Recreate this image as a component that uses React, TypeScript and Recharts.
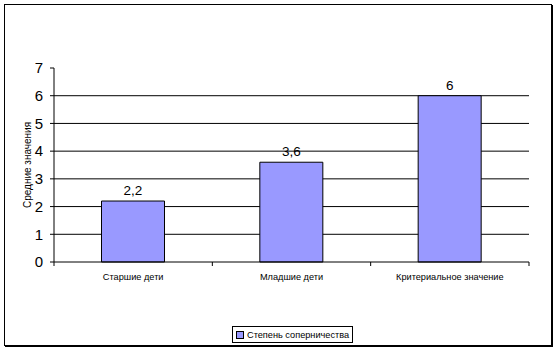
import { BarChart, Bar, XAxis, YAxis, CartesianGrid, Legend, LabelList } from 'recharts';

const categories = ['Старшие дети', 'Младшие дети', 'Критериальное значение'];
const rivalry = [2.2, 3.6, 6];
const yTicks = [0, 1, 2, 3, 4, 5, 6, 7];
const gridValues = [1, 2, 3, 4, 5, 6];
const seriesName = 'Степень соперничества';
const yTitle = 'Средние значения';

const data = categories.map((name, i) => ({ name, value: rivalry[i] }));

const FONT = '"Liberation Sans", Arial, sans-serif';
const BAR_FILL = '#9999ff';

function CategoryTick(props: any) {
  const { x, y, payload, index } = props;
  const half = payload?.offset ?? 0;
  return (
    <g>
      {index === 0 && <line x1={x - half} x2={x - half} y1={y} y2={y + 4} stroke="#000" />}
      <line x1={x + half} x2={x + half} y1={y} y2={y + 4} stroke="#000" />
      <text
        x={x}
        y={y + 18}
        textAnchor="middle"
        fontSize={9.2}
        fontFamily={FONT}
        fill="#000"
      >
        {payload.value}
      </text>
    </g>
  );
}

function LegendBox() {
  return (
    <div
      style={{
        boxSizing: 'border-box',
        height: 17,
        border: '1px solid #000',
        display: 'flex',
        alignItems: 'center',
        padding: '0 3px',
        fontFamily: FONT,
        fontSize: 9.2,
        color: '#000',
        whiteSpace: 'nowrap',
      }}
    >
      <span
        style={{
          display: 'inline-block',
          width: 6,
          height: 6,
          background: BAR_FILL,
          border: '1px solid #000',
          marginRight: 3,
        }}
      />
      {seriesName}
    </div>
  );
}

export default function App() {
  return (
    <div style={{ position: 'absolute', left: 0, top: 0, width: 557, height: 352, background: '#fff' }}>
      <div
        style={{
          position: 'absolute',
          left: 4,
          top: 4,
          width: 548,
          height: 342,
          boxSizing: 'border-box',
          border: '1px solid #000',
          boxShadow: '1px 1px 0 #000',
        }}
      />
      <BarChart
        width={557}
        height={352}
        data={data}
        margin={{ top: 68, right: 28, left: 0, bottom: 9 }}
        barCategoryGap="30%"
        style={{ position: 'absolute', left: 0, top: 0 }}
      >
        <CartesianGrid
          vertical={false}
          horizontalValues={gridValues}
          stroke="#000"
          strokeWidth={1}
        />
        <XAxis
          dataKey="name"
          height={64}
          tickLine={false}
          tickSize={0}
          tickMargin={0}
          axisLine={{ stroke: '#000' }}
          tick={<CategoryTick />}
          interval={0}
        />
        <YAxis
          width={54}
          domain={[0, 7]}
          ticks={yTicks}
          interval={0}
          tickSize={4}
          tickMargin={7}
          axisLine={{ stroke: '#000' }}
          tickLine={{ stroke: '#000' }}
          tick={{ fontSize: 15, fill: '#000', fontFamily: FONT }}
          label={{
            value: yTitle,
            angle: -90,
            position: 'insideLeft',
            offset: 27,
            style: { textAnchor: 'middle', fontSize: 10, fill: '#000', fontFamily: FONT },
          }}
        />
        <Legend
          verticalAlign="bottom"
          content={<LegendBox />}
          wrapperStyle={{ left: 232, width: 'auto', bottom: 9 }}
        />
        <Bar
          dataKey="value"
          name={seriesName}
          fill={BAR_FILL}
          stroke="#000"
          strokeWidth={1}
          isAnimationActive={false}
        >
          <LabelList
            dataKey="value"
            position="top"
            offset={6}
            formatter={(v: any) => String(v).replace('.', ',')}
            style={{ fontSize: 13.5, fill: '#000', fontFamily: FONT }}
          />
        </Bar>
      </BarChart>
    </div>
  );
}
